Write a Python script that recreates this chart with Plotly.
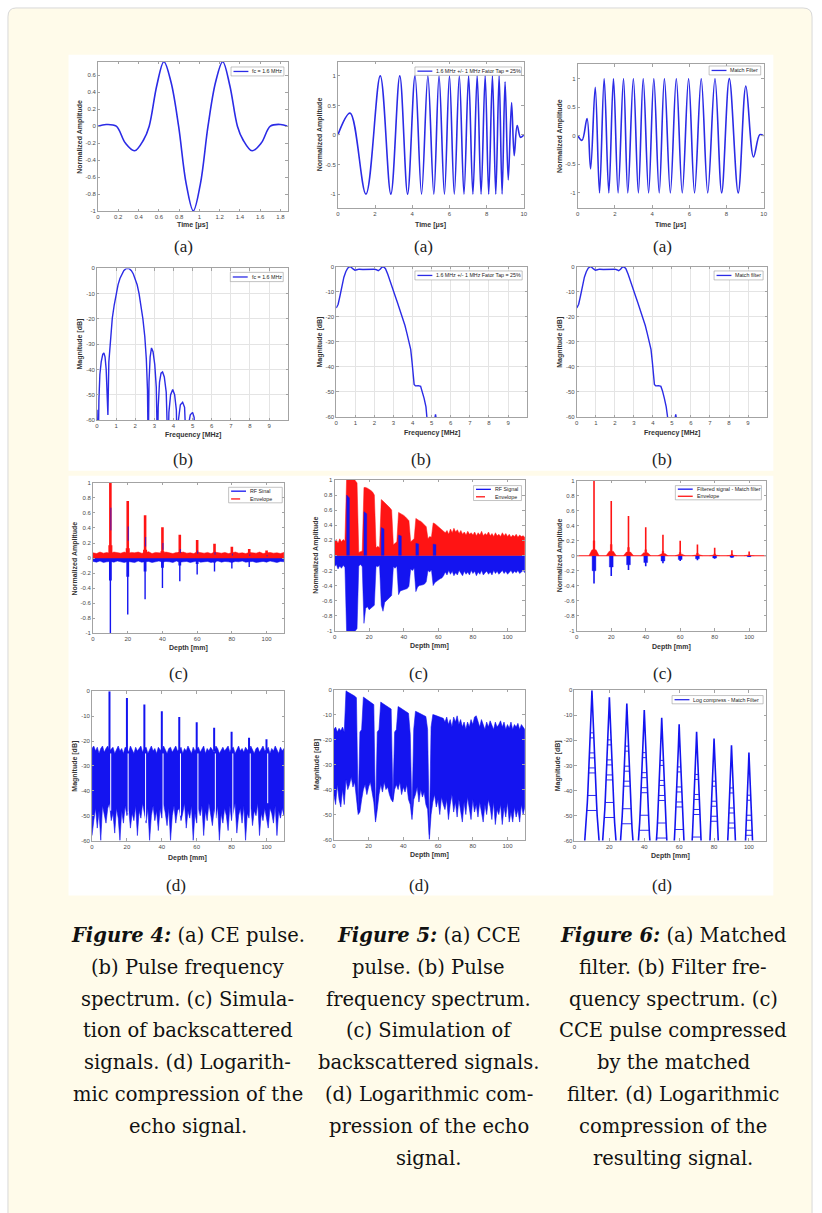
import plotly.graph_objects as go

W, H = 822, 1213

# ======================= DATA =======================
# Fig 4(a) CE pulse (time in us, normalized amplitude)
ce_pulse_t = [0.0, 0.08, 0.18, 0.27, 0.36, 0.45, 0.505, 0.58, 0.65, 0.72, 0.795, 0.87, 0.94,
              1.01, 1.085, 1.16, 1.23, 1.30, 1.375, 1.43, 1.52, 1.61, 1.70, 1.80, 1.87]
ce_pulse_amp = [0.0, 0.02, 0.0, -0.2, -0.29, -0.16, 0.0, 0.48, 0.76, 0.52, 0.0, -0.68, -1.0,
                -0.68, 0.0, 0.52, 0.76, 0.48, 0.0, -0.16, -0.29, -0.2, 0.0, 0.02, 0.0]

# Fig 5(a) CCE chirp pulse (extrema)
cce_pulse_t = [0.0, 0.66, 1.51, 2.28, 2.85, 3.33, 3.75, 4.15, 4.50, 4.84, 5.16, 5.44, 5.73, 6.00,
               6.26, 6.53, 6.78, 7.03, 7.26, 7.49, 7.70, 7.92, 8.11, 8.31, 8.49, 8.67, 8.83, 8.99,
               9.16, 9.34, 9.48, 9.64, 9.82, 10.0]
cce_pulse_amp = [0.0, 0.37, -1, 1, -1, 1, -1, 1, -1, 1, -1, 1, -1, 1,
                 -1, 1, -1, 1, -1, 1, -1, 1, -1, 1, -1, 1, -1, 0.9,
                 -0.76, 0.55, -0.35, 0.16, -0.04, 0.0]

# Fig 6(a) matched filter (extrema)
mf_pulse_t = [0.0, 0.23, 0.50, 0.69, 0.94, 1.17, 1.42, 1.67, 1.92, 2.17, 2.46, 2.69, 2.99, 3.26,
              3.52, 3.81, 4.09, 4.38, 4.66, 4.98, 5.30, 5.62, 5.96, 6.28, 6.64, 6.99, 7.38, 7.74,
              8.15, 8.63, 9.04, 9.45, 9.79, 10.0]
mf_pulse_amp = [0.0, -0.08, 0.3, -0.58, 0.85, -1, 1, -1, 1, -1, 1, -1, 1, -1,
                1, -1, 1, -1, 1, -1, 1, -1, 1, -1, 1, -1, 1, -1,
                1, -1, 0.87, -0.37, 0.02, 0.0]

# (b) spectra  (MHz, dB)
ce_spec_f = [0.0, 0.06, 0.10, 0.15, 0.22, 0.30, 0.36, 0.42, 0.48, 0.53, 0.57, 0.62, 0.70, 0.80,
             0.90, 1.00, 1.10, 1.20, 1.30, 1.40, 1.50, 1.60, 1.70, 1.80, 1.90, 2.00, 2.10, 2.20,
             2.30, 2.40, 2.50, 2.58, 2.64, 2.68, 2.72, 2.78, 2.85, 2.93, 3.02, 3.10, 3.17, 3.20,
             3.27, 3.35, 3.43, 3.52, 3.62, 3.72, 3.76, 3.85, 3.96, 4.06, 4.15, 4.20, 4.26, 4.36,
             4.48, 4.58, 4.69, 4.78, 4.88, 5.00, 5.08, 5.14]
ce_spec_db = [-56, -75, -52, -42, -37, -34, -33.5, -35, -40, -48, -58, -37, -27.5, -19.7,
              -14.5, -10, -6.5, -4, -2.2, -0.9, -0.2, 0, -0.2, -0.9, -2.2, -4, -6.5, -10,
              -14.5, -20, -27, -36, -48, -75, -45, -35, -31.5, -33, -38, -47, -75, -55,
              -45, -41.5, -41, -43, -49, -75, -57, -50, -48, -50, -56, -75, -60, -54,
              -53, -55, -75, -62, -58, -57, -59, -75]

cce_spec_f = [0.0, 0.1, 0.2, 0.3, 0.4, 0.5, 0.6, 0.7, 0.78, 0.88, 0.98, 1.08, 1.2, 1.4, 1.6, 1.8,
              2.0, 2.1, 2.2, 2.3, 2.4, 2.48, 2.58, 2.7, 2.8, 2.9, 3.0, 3.1, 3.2, 3.3, 3.4, 3.5,
              3.6, 3.7, 3.8, 3.9, 3.97, 4.03, 4.08, 4.15, 4.3, 4.42, 4.5, 4.6, 4.7, 4.78, 4.82,
              None, 5.13, 5.2, 5.27]
cce_spec_db = [-16.5, -15, -11.5, -7.5, -4.2, -2, -0.6, 0, -0.2, -0.9, -1.4, -1.2, -1.0, -1.1, -1.0, -1.1,
               -1.0, -1.2, -1.6, -1.0, -0.1, 0, -0.8, -3, -5.5, -8, -10, -12, -14.2, -16.4, -18.7, -21,
               -23.5, -26.5, -29.5, -33, -38, -44, -47, -47.6, -47.5, -47.8, -49.5, -52.5, -56, -60.5, -66,
               None, -62, -59, -62]

mf_spec_f = [0.0, 0.1, 0.2, 0.3, 0.4, 0.5, 0.6, 0.7, 0.78, 0.88, 0.98, 1.08, 1.2, 1.4, 1.6, 1.8,
             2.0, 2.1, 2.2, 2.3, 2.4, 2.48, 2.58, 2.7, 2.8, 2.9, 3.0, 3.1, 3.2, 3.3, 3.4, 3.5,
             3.6, 3.7, 3.8, 3.9, 3.97, 4.03, 4.08, 4.15, 4.3, 4.42, 4.5, 4.6, 4.7, 4.78, 4.82,
             None, 5.13, 5.2, 5.27]
mf_spec_db = [-16.5, -15, -11.5, -7.5, -4.2, -2, -0.6, 0, -0.2, -0.9, -1.4, -1.2, -1.0, -1.1, -1.0, -1.1,
              -1.0, -1.2, -1.6, -1.0, -0.1, 0, -0.8, -3, -5.5, -8, -10, -12, -14.2, -16.4, -18.7, -21,
              -23.5, -26.5, -29.5, -33, -38, -44, -47, -47.6, -47.5, -47.8, -49.5, -52.5, -56, -60.5, -66,
              None, -62, -59, -62]

# (c) backscattered signals
depth_echo = [10, 20, 30, 40, 50, 60, 70, 80, 90, 100]
depth_span = [0, 110]
noise_depth_2mm = list(range(0, 111, 2))
depth_1mm = list(range(0, 111))

ce_env_peak = [1.0, 0.76, 0.57, 0.41, 0.31, 0.24, 0.19, 0.15, 0.12, 0.10]
ce_env_core = [0.17, 0.13, 0.11, 0.09, 0.08, 0.07, 0.06, 0.05, 0.04, 0.03]
ce_rf_neg = [-1.0, -0.75, -0.55, -0.40, -0.31, -0.22, -0.18, -0.14, -0.12, -0.05]
ce_rf_core = [-0.3, -0.25, -0.18, -0.13, -0.1, -0.08, -0.06, -0.05, -0.04, -0.03]
ce_rf_pos = [0.67, 0.42, 0.28, 0.2, 0.12, 0.1, 0.08, 0.06, 0.05, 0.04]
ce_env_noise = [0.07, 0.06, 0.08, 0.065, 0.075, 0.06, 0.08, 0.07, 0.065, 0.08,
                0.06, 0.075, 0.07, 0.08, 0.065, 0.07, 0.085, 0.06, 0.075, 0.07,
                0.065, 0.08, 0.07, 0.06, 0.075, 0.07, 0.08, 0.065, 0.07, 0.06,
                0.08, 0.07, 0.065, 0.075, 0.06, 0.08, 0.07, 0.065, 0.075, 0.06,
                0.07, 0.08, 0.065, 0.07, 0.06, 0.075, 0.07, 0.065, 0.08, 0.06,
                0.07, 0.075, 0.065, 0.07, 0.06, 0.075]
ce_rf_noise = [-0.045, -0.055, -0.04, -0.06, -0.05, -0.045, -0.055, -0.04, -0.05, -0.06,
               -0.045, -0.05, -0.06, -0.04, -0.055, -0.05, -0.045, -0.06, -0.05, -0.04,
               -0.055, -0.045, -0.05, -0.06, -0.04, -0.055, -0.05, -0.045, -0.06, -0.05,
               -0.04, -0.055, -0.05, -0.045, -0.06, -0.05, -0.04, -0.055, -0.045, -0.05,
               -0.06, -0.045, -0.05, -0.04, -0.055, -0.05, -0.045, -0.06, -0.05, -0.045,
               -0.055, -0.04, -0.05, -0.06, -0.045, -0.05]

cce_env_top = [0.18, 0.21, 0.16, 0.22, 0.18, 0.21, 0.19, 1.05, 1.05, 1.05,
               1.04, 1.02, 0.99, 0.96, 0.04, 0.05, 0.06, 0.9, 0.9, 0.89,
               0.88, 0.86, 0.84, 0.8, 0.1, 0.12, 0.1, 0.74, 0.72, 0.7,
               0.68, 0.66, 0.63, 0.6, 0.14, 0.16, 0.18, 0.57, 0.56, 0.55,
               0.53, 0.51, 0.49, 0.46, 0.18, 0.2, 0.22, 0.49, 0.47, 0.46,
               0.45, 0.43, 0.41, 0.38, 0.22, 0.25, 0.24, 0.43, 0.42, 0.4,
               0.39, 0.37, 0.35, 0.32, 0.3, 0.33, 0.28, 0.35, 0.3, 0.36,
               0.31, 0.34, 0.29, 0.33, 0.28, 0.31, 0.27, 0.32, 0.28, 0.3,
               0.27, 0.31, 0.26, 0.3, 0.27, 0.32, 0.26, 0.29, 0.27, 0.31,
               0.26, 0.29, 0.25, 0.3, 0.26, 0.28, 0.25, 0.3, 0.26, 0.29,
               0.25, 0.28, 0.24, 0.27, 0.25, 0.28, 0.24, 0.27, 0.25, 0.26, 0.24]
cce_rf_bottom = [-0.15, -0.12, -0.18, -0.14, -0.17, -0.13, -0.16, -1.05, -1.05, -1.05,
                 -1.05, -1.03, -1.0, -0.97, -0.14, -0.12, -0.15, -0.9, -0.7, -0.68,
                 -0.72, -0.7, -0.68, -0.66, -0.14, -0.15, -0.13, -0.66, -0.74, -0.62,
                 -0.6, -0.58, -0.56, -0.53, -0.15, -0.17, -0.14, -0.52, -0.47, -0.46,
                 -0.46, -0.45, -0.44, -0.41, -0.18, -0.2, -0.17, -0.48, -0.42, -0.4,
                 -0.4, -0.39, -0.38, -0.35, -0.2, -0.22, -0.19, -0.4, -0.36, -0.34,
                 -0.33, -0.31, -0.3, -0.27, -0.22, -0.26, -0.2, -0.25, -0.21, -0.27,
                 -0.23, -0.26, -0.2, -0.24, -0.27, -0.21, -0.25, -0.22, -0.26, -0.2,
                 -0.24, -0.21, -0.27, -0.22, -0.25, -0.2, -0.26, -0.23, -0.21, -0.25,
                 -0.22, -0.26, -0.2, -0.24, -0.21, -0.25, -0.22, -0.2, -0.24, -0.21,
                 -0.25, -0.22, -0.2, -0.24, -0.21, -0.23, -0.2, -0.24, -0.22, -0.2, -0.23]
cce_rf_pos_start = [7, 17, 27, 37, 47, 57]
cce_rf_pos_top = [0.8, 0.58, 0.37, 0.27, 0.16, 0.15]

mf_env_peak = [1.0, 0.73, 0.53, 0.38, 0.28, 0.2, 0.15, 0.108, 0.073, 0.055]
mf_env_core = [0.2, 0.15, 0.11, 0.08, 0.06, 0.045, 0.035, 0.025, 0.02, 0.015]
mf_env_bulb = [0.08, 0.06, 0.05, 0.04, 0.03, 0.02, 0.015, 0.01, 0.008, 0.005]
mf_rf_neg = [-0.37, -0.27, -0.19, -0.14, -0.1, -0.07, -0.06, -0.04, -0.025, -0.015]
mf_rf_core = [-0.2, -0.15, -0.12, -0.09, -0.07, -0.05, -0.04, -0.03, -0.02, -0.012]

# (d) log compression (dB)
ce_log_peak = [0, -2.7, -5.3, -8.0, -10.3, -12.4, -14.7, -16.3, -18.7, -19.3]
ce_log_gap_bottom = [-48, -49, -52, -50, -50, -52, -58, -58, -58, -45]
ce_log_top = [-23, -22, -24, -22.5, -25, -23, -22, -24.5, -23, -22,
              -24, -23, -22.5, -25, -23.5, -22, -24, -23, -25, -22.5,
              -23, -24.5, -22, -23.5, -25, -22.5, -24, -23, -22, -24.5,
              -23, -22.5, -25, -23.5, -22, -24, -23, -25, -22.5, -23.5,
              -24, -22, -23.5, -25, -23, -22.5, -24.5, -23, -22, -24,
              -23.5, -22.5, -25, -23, -24, -22, -23.5, -25, -22.5, -24,
              -23, -22.5, -24.5, -23.5, -22, -25, -23, -24, -22.5, -23.5,
              -24.5, -22, -23, -25, -23.5, -22.5, -24, -23, -22, -24.5,
              -23, -22.5, -25, -23.5, -22, -24, -23, -24.5, -22.5, -23.5,
              -24, -22, -23.5, -25, -23, -22.5, -24.5, -23, -22, -24,
              -23.5, -22.5, -25, -23, -24, -22, -23.5, -25, -22.5, -24, -23]
ce_log_bottom = [-58, -52, -47, -55, -48, -60, -46, -50, -53, -47,
                 -45, -52, -49, -57, -47, -51, -60, -48, -53, -46,
                 -50, -47, -55, -49, -52, -46, -58, -48, -51, -45,
                 -49, -53, -47, -60, -50, -46, -52, -48, -56, -47,
                 -51, -45, -49, -54, -47, -60, -50, -46, -53, -48,
                 -47, -52, -49, -45, -55, -48, -51, -46, -60, -49,
                 -53, -47, -50, -46, -58, -48, -52, -45, -49, -54,
                 -47, -51, -46, -60, -49, -53, -47, -50, -56, -46,
                 -52, -48, -45, -57, -50, -47, -53, -46, -60, -49,
                 -51, -46, -54, -48, -50, -45, -58, -49, -52, -47,
                 -50, -55, -47, -49, -53, -46, -58, -48, -51, -47, -50]

cce_log_top = [-16, -15, -17, -15.5, -16.5, -15, -17, -0.5, -1, -1.5,
               -1.8, -2.2, -2.6, -3.3, -48, -17, -16, -3, -3.5, -4,
               -4.3, -4.8, -5.3, -6, -52, -17, -16, -5, -5.5, -6,
               -6.3, -6.8, -7.2, -7.8, -44, -17, -16, -6.8, -7.2, -7.6,
               -8, -8.5, -9, -9.5, -18, -50, -16, -8.7, -9, -9.3,
               -9.6, -10, -10.4, -10.8, -16, -58, -15, -10, -10.2, -10.5,
               -10.8, -11, -11.2, -11.5, -13, -11, -14, -12, -15, -11,
               -13, -10.5, -14, -12, -15, -13, -16, -13, -15, -12,
               -14, -11, -10.5, -13, -15, -12, -14, -16, -13, -15,
               -12.5, -14, -16, -13, -15, -14, -12.5, -15, -13, -16,
               -14, -15.5, -13, -16, -14, -15, -13.5, -16, -14, -15, -16]
cce_log_bottom = [-42, -46, -38, -44, -47, -40, -46, -36, -40, -38,
                  -35, -39, -37, -42, -50, -49, -44, -40, -38, -42,
                  -39, -37, -41, -45, -53, -48, -42, -38, -41, -37,
                  -40, -39, -42, -44, -45, -40, -38, -40, -37, -42,
                  -39, -41, -38, -44, -46, -52, -44, -42, -39, -45,
                  -40, -43, -41, -46, -48, -60, -50, -45, -42, -47,
                  -44, -50, -43, -46, -48, -44, -52, -46, -42, -49,
                  -45, -51, -44, -48, -53, -45, -50, -43, -47, -52,
                  -44, -49, -46, -51, -45, -48, -53, -46, -50, -44,
                  -47, -52, -45, -54, -48, -50, -46, -54, -47, -51,
                  -45, -53, -49, -53, -47, -51, -48, -53, -46, -50, -47]

mf_log_peak = [0, -2.8, -5.3, -7.9, -11.0, -13.6, -16.6, -19.3, -22.0, -24.9]
pyr_below_db = [0, 5, 10, 17, 20, 25, 30, 35, 40, 45, 50, 55, 62]
pyr_halfwidth = [0, 0.25, 0.5, 0.85, 1.0, 1.3, 1.6, 1.95, 2.3, 2.65, 3.0, 3.5, 4.3]
pyr_rung_db = [17, 19, 25, 27, 31, 33, 42, 48]
pyr_rung_hw = [0.85, 0.95, 1.3, 1.4, 1.65, 1.75, 2.4, 2.8]

# tick labels
t_ce_ticks = [0, 0.2, 0.4, 0.6, 0.8, 1, 1.2, 1.4, 1.6, 1.8]
amp_ce_ticks = [-1, -0.8, -0.6, -0.4, -0.2, 0, 0.2, 0.4, 0.6]
t_chirp_ticks = [0, 2, 4, 6, 8, 10]
amp_chirp_ticks = [-1, -0.5, 0, 0.5, 1]
freq_ticks = [0, 1, 2, 3, 4, 5, 6, 7, 8, 9]
db_ticks = [-60, -50, -40, -30, -20, -10, 0]
depth_ticks = [0, 20, 40, 60, 80, 100]
amp_c_ticks = [-1, -0.8, -0.6, -0.4, -0.2, 0, 0.2, 0.4, 0.6, 0.8, 1]

# ======================= STYLE / LAYOUT =======================
BLUE = '#1414f0'
LBLUE = '#2b2be6'
RED = '#ff1414'
AXC = '#a3a3a3'
SANS = 'Liberation Sans, Arial, sans-serif'
TICKF = dict(family=SANS, size=6, color='#4a4a4a')


def fx(px):
    return px / W


def fy(py):
    return 1 - py / H


def xn(n):
    return 'x' if n == 1 else f'x{n}'


def yn(n):
    return 'y' if n == 1 else f'y{n}'


def fmt(v):
    return '%g' % v


fig = go.Figure()
layout = dict(width=W, height=H, margin=dict(l=0, r=0, t=0, b=0),
              paper_bgcolor='white', plot_bgcolor='white', showlegend=False)
shapes = []
annos = []

# panel: n, (l, r, t, b), xrange, yrange, xticks, yticks, grid, xtitle, ytitle, xtitle_y, ytitle_x
panels = [
    (1, (96.7, 287.7, 59, 209), [0, 1.87], [-1, 0.76], t_ce_ticks, amp_ce_ticks, False,
     'Time [μs]', 'Normalized Amplitude', 223, 79),
    (2, (338.3, 525.7, 59, 205.7), [0, 10], [-1.23, 1.24], t_chirp_ticks, amp_chirp_ticks, False,
     'Time [μs]', 'Normalized Amplitude', 222.7, 320),
    (3, (580, 767.3, 61.7, 205.7), [0, 10], [-1.26, 1.25], t_chirp_ticks, amp_chirp_ticks, False,
     'Time [μs]', 'Normalized Amplitude', 222.7, 562),
    (4, (95.7, 288.3, 266.7, 419), [0, 10], [-60, 0], freq_ticks, db_ticks, True,
     'Frequency [MHz]', 'Magnitude [dB]', 434, 79),
    (5, (336.7, 529, 265, 416), [0, 10], [-60, 0], freq_ticks, db_ticks, True,
     'Frequency [MHz]', 'Magnitude [dB]', 431.7, 320),
    (6, (579, 770.7, 265, 416), [0, 10], [-60, 0], freq_ticks, db_ticks, True,
     'Frequency [MHz]', 'Magnitude [dB]', 431.7, 562),
    (7, (91.7, 284, 482.3, 633.3), [0, 110], [-1, 1], depth_ticks, amp_c_ticks, False,
     'Depth [mm]', 'Normalized Amplitude', 648, 74),
    (8, (335, 526.7, 479.3, 631), [0, 110], [-1, 1], depth_ticks, amp_c_ticks, False,
     'Depth [mm]', 'Nommalized Amplitude', 646, 316.7),
    (9, (579, 770, 480, 631), [0, 110], [-1, 1], depth_ticks, amp_c_ticks, False,
     'Depth [mm]', 'Normalized Amplitude', 646.7, 561.7),
    (10, (90.7, 284, 691.7, 841.7), [0, 110], [-60, 0], depth_ticks, db_ticks, False,
     'Depth [mm]', 'Magnitude [dB]', 859, 73.3),
    (11, (334.3, 526.7, 690, 840.7), [0, 110], [-60, 0], depth_ticks, db_ticks, False,
     'Depth [mm]', 'Magnitude [dB]', 856.7, 316.7),
    (12, (576.7, 770, 690.7, 841.7), [0, 110], [-60, 0], depth_ticks, db_ticks, False,
     'Depth [mm]', 'Magnitude [dB]', 857.7, 560),
]

common = dict(showline=True, mirror='ticks', linecolor=AXC, linewidth=0.8, ticks='inside',
              ticklen=2.5, tickcolor=AXC, tickwidth=0.6, tickfont=TICKF, zeroline=False,
              gridcolor='#e4e4e4', gridwidth=0.6, fixedrange=True)

for n, (l, r, t, b), xr, yr, xtv, ytv, grid, xtitle, ytitle, xty, ytx in panels:
    xk = 'xaxis' if n == 1 else f'xaxis{n}'
    yk = 'yaxis' if n == 1 else f'yaxis{n}'
    layout[xk] = dict(common, domain=[fx(l), fx(r)], range=xr, anchor=yn(n),
                      tickvals=xtv, ticktext=[fmt(v) for v in xtv], showgrid=grid)
    layout[yk] = dict(common, domain=[fy(b), fy(t)], range=yr, anchor=xn(n),
                      tickvals=ytv, ticktext=[fmt(v) for v in ytv], showgrid=grid)
    annos.append(dict(text='<b>%s</b>' % xtitle, x=fx((l + r) / 2), y=fy(xty), xref='paper', yref='paper',
                      showarrow=False, font=dict(family=SANS, size=7, color='#333'),
                      xanchor='center', yanchor='middle'))
    annos.append(dict(text='<b>%s</b>' % ytitle, x=fx(ytx), y=fy((t + b) / 2), xref='paper', yref='paper',
                      showarrow=False, textangle=-90, font=dict(family=SANS, size=7, color='#333'),
                      xanchor='center', yanchor='middle'))


def line(n, x, y, color=BLUE, width=1.5, shape='linear', dash=None):
    fig.add_trace(go.Scatter(x=x, y=y, xaxis=xn(n), yaxis=yn(n), mode='lines', hoverinfo='skip',
                             line=dict(color=color, width=width, shape=shape, dash=dash),
                             connectgaps=False))


def poly(n, x, y, color, lw=0.6):
    fig.add_trace(go.Scatter(x=x, y=y, xaxis=xn(n), yaxis=yn(n), mode='lines', fill='toself',
                             fillcolor=color, hoverinfo='skip', line=dict(color=color, width=lw)))


def segs(n, xs0, ys0, xs1, ys1, color, width):
    X, Y = [], []
    for a, b, c, d in zip(xs0, ys0, xs1, ys1):
        X += [a, c, None]
        Y += [b, d, None]
    line(n, X, Y, color=color, width=width)


# ---- row 1: pulses
line(1, ce_pulse_t, ce_pulse_amp, color=LBLUE, width=1.6, shape='spline')
line(2, cce_pulse_t, cce_pulse_amp, color=LBLUE, width=1.6, shape='spline')
line(3, mf_pulse_t, mf_pulse_amp, color=LBLUE, width=1.6, shape='spline')

# ---- row 2: spectra
line(4, ce_spec_f, ce_spec_db, color=LBLUE, width=1.4)
line(5, cce_spec_f, cce_spec_db, color=LBLUE, width=1.4)
line(6, mf_spec_f, mf_spec_db, color=LBLUE, width=1.4)

# ---- row 3 col 1: CE backscatter
poly(7, noise_depth_2mm + noise_depth_2mm[::-1], ce_rf_noise + [0] * len(noise_depth_2mm), BLUE, 0.5)
segs(7, depth_echo, [0] * 10, depth_echo, ce_rf_neg, BLUE, 1.4)
segs(7, depth_echo, [0] * 10, depth_echo, ce_rf_core, BLUE, 2.8)
poly(7, noise_depth_2mm + noise_depth_2mm[::-1], ce_env_noise + [0] * len(noise_depth_2mm), RED, 0.5)
segs(7, depth_echo, [0] * 10, depth_echo, ce_env_peak, RED, 2.6)
segs(7, depth_echo, [0] * 10, depth_echo, ce_env_core, RED, 4.0)
segs(7, [d + 0.3 for d in depth_echo], [e * 0.55 for e in ce_rf_pos], [d + 0.3 for d in depth_echo],
     ce_rf_pos, BLUE, 0.8)

# ---- row 3 col 2: CCE backscatter
poly(8, depth_1mm + depth_1mm[::-1], cce_rf_bottom + [0] * 111, BLUE, 0.5)
poly(8, depth_1mm + depth_1mm[::-1], cce_env_top + [0] * 111, RED, 0.5)
for s, tp in zip(cce_rf_pos_start, cce_rf_pos_top):
    poly(8, [s, s, s + 1.6, s + 1.6], [0, tp, tp * 0.95, 0], BLUE, 0.4)

# ---- row 3 col 3: matched filter output
line(9, depth_span, [0, 0], color=RED, width=1.2)
for d, ng, cr in zip(depth_echo, mf_rf_neg, mf_rf_core):
    poly(9, [d - 1.1, d - 1.1, d + 1.1, d + 1.1], [0, cr, cr, 0], BLUE, 0.4)
segs(9, depth_echo, [0] * 10, depth_echo, mf_rf_neg, BLUE, 1.6)
for d, bl, cr in zip(depth_echo, mf_env_bulb, mf_env_core):
    poly(9, [d - 3, d - 1.2, d - 0.5, d - 0.5, d + 0.5, d + 0.5, d + 1.2, d + 3],
         [0, bl, bl, cr, cr, bl, bl, 0], RED, 0.4)
segs(9, depth_echo, [0] * 10, depth_echo, mf_env_peak, RED, 1.6)

# ---- row 4 col 1: log CE
poly(10, depth_1mm + depth_1mm[::-1], ce_log_top + ce_log_bottom[::-1], BLUE, 0.6)
segs(10, [d + 0.7 for d in depth_echo], [-25] * 10, [d + 0.7 for d in depth_echo], ce_log_gap_bottom, 'white', 1.0)
segs(10, depth_echo, [-24] * 10, depth_echo, ce_log_peak, BLUE, 2.0)

# ---- row 4 col 2: log CCE
poly(11, depth_1mm + depth_1mm[::-1], cce_log_top + cce_log_bottom[::-1], BLUE, 0.6)

# ---- row 4 col 3: log matched
for d, pk in zip(depth_echo, mf_log_peak):
    xs = [d - w for w in pyr_halfwidth[::-1]] + [d + w for w in pyr_halfwidth[1:]]
    ys = [pk - b for b in pyr_below_db[::-1]] + [pk - b for b in pyr_below_db[1:]]
    line(12, xs, ys, color=BLUE, width=1.6)
    segs(12, [d - w for w in pyr_rung_hw], [pk - b for b in pyr_rung_db],
         [d + w for w in pyr_rung_hw], [pk - b for b in pyr_rung_db], BLUE, 0.9)

# ======================= DECOR =======================
CREAM = '#fffbea'
shapes.append(dict(type='path', xref='paper', yref='paper', layer='below',
                   path='M %f %f L %f %f Q %f %f %f %f L %f %f Q %f %f %f %f L %f %f Z' % (
                       fx(6), fy(1220), fx(6), fy(14), fx(6), fy(5), fx(14), fy(5),
                       fx(807), fy(5), fx(816), fy(5), fx(816), fy(14), fx(816), fy(1220)),
                   fillcolor=CREAM, line=dict(color='#d8d8d8', width=1)))
for (x0, y0, x1, y1) in [(67, 52, 777, 470), (67, 475, 777, 897)]:
    shapes.append(dict(type='rect', xref='paper', yref='paper', layer='below',
                       x0=fx(x0), x1=fx(x1), y0=fy(y1), y1=fy(y0), fillcolor='white', line=dict(width=0)))


def legend(x0, x1, y0, y1, entries):
    shapes.append(dict(type='rect', xref='paper', yref='paper', layer='above',
                       x0=fx(x0), x1=fx(x1), y0=fy(y1), y1=fy(y0), fillcolor='white',
                       line=dict(color='#9a9a9a', width=0.6)))
    k = len(entries)
    for i, (txt, col, dash) in enumerate(entries):
        yc = y0 + (y1 - y0) * (i + 0.5) / k
        shapes.append(dict(type='line', xref='paper', yref='paper', layer='above',
                           x0=fx(x0 + 2.5), x1=fx(x0 + 17.5), y0=fy(yc), y1=fy(yc),
                           line=dict(color=col, width=1.3, dash=dash)))
        annos.append(dict(text=txt, x=fx(x0 + 19.5), y=fy(yc), xref='paper', yref='paper', showarrow=False,
                          xanchor='left', yanchor='middle', font=dict(family=SANS, size=5.3, color='#222')))


legend(230.7, 284, 64.3, 73.3, [('fc = 1.6 MHz', LBLUE, 'solid')])
legend(416, 523.3, 64.3, 72.7, [('1.6 MHz +/- 1 MHz Fator Tap = 25%', LBLUE, 'solid')])
legend(712.3, 764.3, 63.3, 72.3, [('Match Filter', LBLUE, 'solid')])
legend(230, 283.3, 270.7, 280, [('fc = 1.6 MHz', LBLUE, 'solid')])
legend(416, 524, 269.3, 278.3, [('1.6 MHz +/- 1 MHz Fator Tap = 25%', LBLUE, 'solid')])
legend(717.3, 766.7, 269.3, 278.3, [('Match filter', LBLUE, 'solid')])
legend(228.3, 282.3, 486.7, 502.3, [('RF Sinal', BLUE, 'solid'), ('Envelope', RED, 'dash')])
legend(475, 523.3, 485, 500, [('RF Signal', BLUE, 'solid'), ('Envelope', RED, 'dash')])
legend(678.3, 765, 485, 499.3, [('Filtered signal - Match filter', BLUE, 'solid'), ('Envelope', RED, 'solid')])
legend(675, 766.7, 696, 704.3, [('Log compress - Match Filter', LBLUE, 'solid')])

# sub-figure labels
SERIF = 'Liberation Serif, DejaVu Serif, serif'
for txt, xs, yc in [('(a)', [183, 425, 665], 245), ('(b)', [182, 422, 665], 459),
                    ('(c)', [178, 420, 665], 674), ('(d)', [175, 420, 665], 887)]:
    for xc in xs:
        annos.append(dict(text=txt, x=fx(xc), y=fy(yc), xref='paper', yref='paper', showarrow=False,
                          xanchor='center', yanchor='middle', font=dict(family=SERIF, size=17, color='#222')))

# captions
CAP = 'DejaVu Serif, serif'
captions = [
    (187, ['<b><i>Figure 4:</i></b> (a) CE pulse.', '(b) Pulse frequency', 'spectrum. (c) Simula-',
           'tion of backscattered', 'signals. (d) Logarith-', 'mic compression of the', 'echo signal.']),
    (430, ['<b><i>Figure 5:</i></b> (a) CCE', 'pulse. (b) Pulse', 'frequency spectrum.', '(c) Simulation of',
           'backscattered signals.', '(d) Logarithmic com-', 'pression of the echo', 'signal.']),
    (676, ['<b><i>Figure 6:</i></b> (a) Matched', 'filter. (b) Filter fre-', 'quency spectrum. (c)',
           'CCE pulse compressed', 'by the matched', 'filter. (d) Logarithmic', 'compression of the',
           'resulting signal.']),
]
for xc, lines in captions:
    for i, s in enumerate(lines):
        annos.append(dict(text=s, x=fx(xc), y=fy(937 + 32 * i), xref='paper', yref='paper', showarrow=False,
                          xanchor='center', yanchor='middle', font=dict(family=CAP, size=19.5, color='#111')))

layout['shapes'] = shapes
layout['annotations'] = annos
fig.update_layout(**layout)
fig.write_html("out.html")
